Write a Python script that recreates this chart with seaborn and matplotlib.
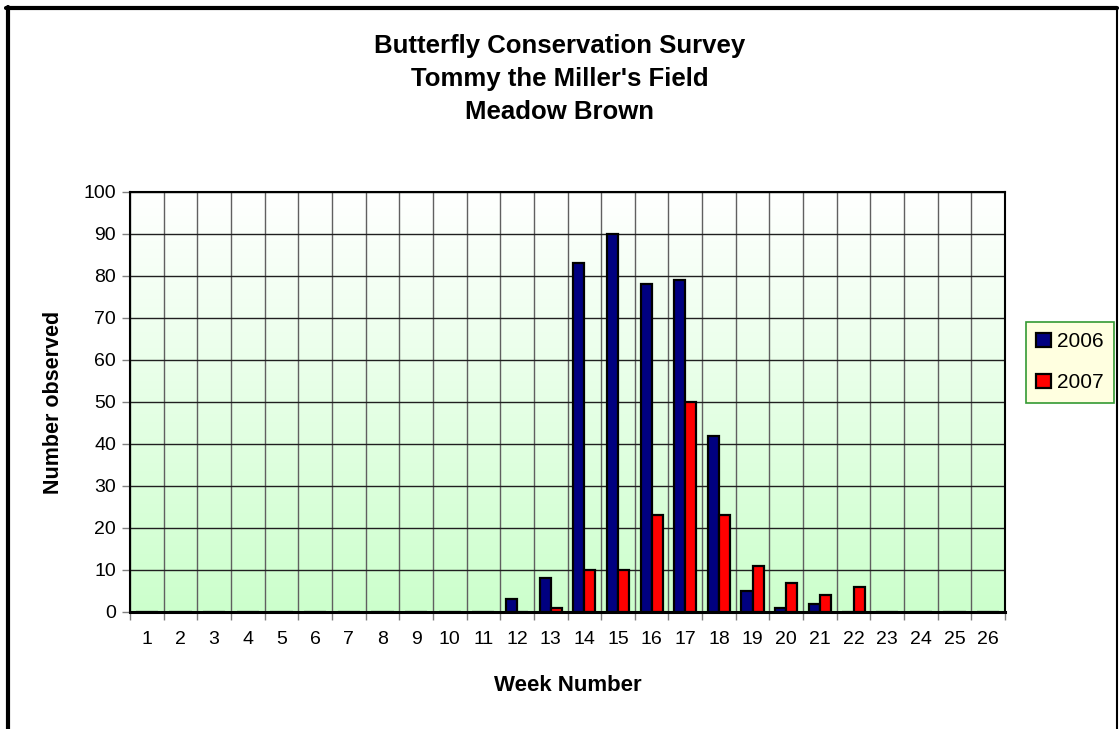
import numpy as np
import pandas as pd
import matplotlib
matplotlib.use("Agg")
import matplotlib.pyplot as plt
from matplotlib.lines import Line2D
from matplotlib.colors import LinearSegmentedColormap
import seaborn as sns

weeks = list(range(1, 27))
counts_2006 = [0,0,0,0,0,0,0,0,0,0,0,3,8,83,90,78,79,42,5,1,2,0,0,0,0,0]
counts_2007 = [0,0,0,0,0,0,0,0,0,0,0,0,1,10,10,23,50,23,11,7,4,6,0,0,0,0]
years = ["2006", "2007"]
colors = {"2006": "#000080", "2007": "#FF0000"}

df = pd.DataFrame({
    "week": weeks * 2,
    "count": counts_2006 + counts_2007,
    "year": ["2006"] * 26 + ["2007"] * 26,
})

sns.set_theme(style="white")
plt.rcParams["font.family"] = ["Liberation Sans", "DejaVu Sans"]
plt.rcParams["text.color"] = "black"
plt.rcParams["axes.labelcolor"] = "black"
plt.rcParams["xtick.color"] = "black"
plt.rcParams["ytick.color"] = "black"

fig = plt.figure(figsize=(11.19, 7.29), dpi=100)
ax = fig.add_axes([130/1119, 1-612/729, 875/1119, 420/729])

# gradient background
grad = np.linspace(0, 1, 256).reshape(-1, 1)
cmap = LinearSegmentedColormap.from_list("g", ["#CCFFCC", "#FFFFFF"])
ax.imshow(grad, aspect="auto", cmap=cmap, origin="lower",
          extent=[-0.5, 25.5, 0, 100], zorder=0)

sns.barplot(data=df, x="week", y="count", hue="year", hue_order=years,
            palette=colors, width=0.66, edgecolor="black", linewidth=1.6,
            saturation=1, ax=ax, zorder=3)

ax.set_xlim(-0.5, 25.5)
ax.set_ylim(0, 100)
ax.set_yticks(range(0, 101, 10))
ax.set_xticks(range(26))
ax.set_xticklabels([str(w) for w in weeks])
ax.set_xticks(np.arange(-0.5, 26, 1), minor=True)
ax.tick_params(axis="x", which="major", length=0, labelsize=14, pad=14, labelcolor="black")
ax.tick_params(axis="x", which="minor", length=6, width=1, color="#808080", bottom=True)
ax.tick_params(axis="y", which="major", length=6, width=1, color="#808080",
               labelsize=14, left=True, pad=4, labelcolor="black")
ax.grid(False)
ax.yaxis.grid(True, color="#202020", linewidth=1, zorder=1)
ax.xaxis.grid(True, which="minor", color="#606060", linewidth=1, zorder=1)
ax.set_axisbelow(True)
for s in ax.spines.values():
    s.set_visible(True)
    s.set_color("black")
    s.set_linewidth(1.5)
ax.spines["bottom"].set_linewidth(2.2)

ax.set_xlabel("Week Number", fontsize=16, fontweight="bold", labelpad=19, color="black")
ax.set_ylabel("Number observed", fontsize=15.5, fontweight="bold", labelpad=14, color="black")

fig.text(0.5, 1-79/729, "Butterfly Conservation Survey\nTommy the Miller's Field\nMeadow Brown",
         ha="center", va="center", fontsize=18.5, fontweight="bold", linespacing=1.48,
         color="black")

sns.move_legend(ax, loc="upper left", bbox_to_anchor=(1026/1119, 1-322/729),
                bbox_transform=fig.transFigure, title=None, frameon=True,
                fontsize=15, fancybox=False, handlelength=0.68, handleheight=0.68,
                handletextpad=0.3, borderpad=0.5, labelspacing=1.05,
                borderaxespad=0)
leg = ax.get_legend()
leg.get_frame().set_facecolor("#FFFFE0")
leg.get_frame().set_edgecolor("#339933")
leg.get_frame().set_linewidth(1.2)
leg.get_frame().set_alpha(1)
for t in leg.get_texts():
    t.set_color("black")

# outer frame
fig.add_artist(Line2D([8/1119, 8/1119], [0, 1-7/729], transform=fig.transFigure, color="black", lw=3))
fig.add_artist(Line2D([6/1119, 1117/1119], [1-8/729, 1-8/729], transform=fig.transFigure, color="black", lw=3))
fig.add_artist(Line2D([1117/1119, 1117/1119], [0, 1-8/729], transform=fig.transFigure, color="black", lw=1.5))

fig.savefig("out.png", dpi=100)
